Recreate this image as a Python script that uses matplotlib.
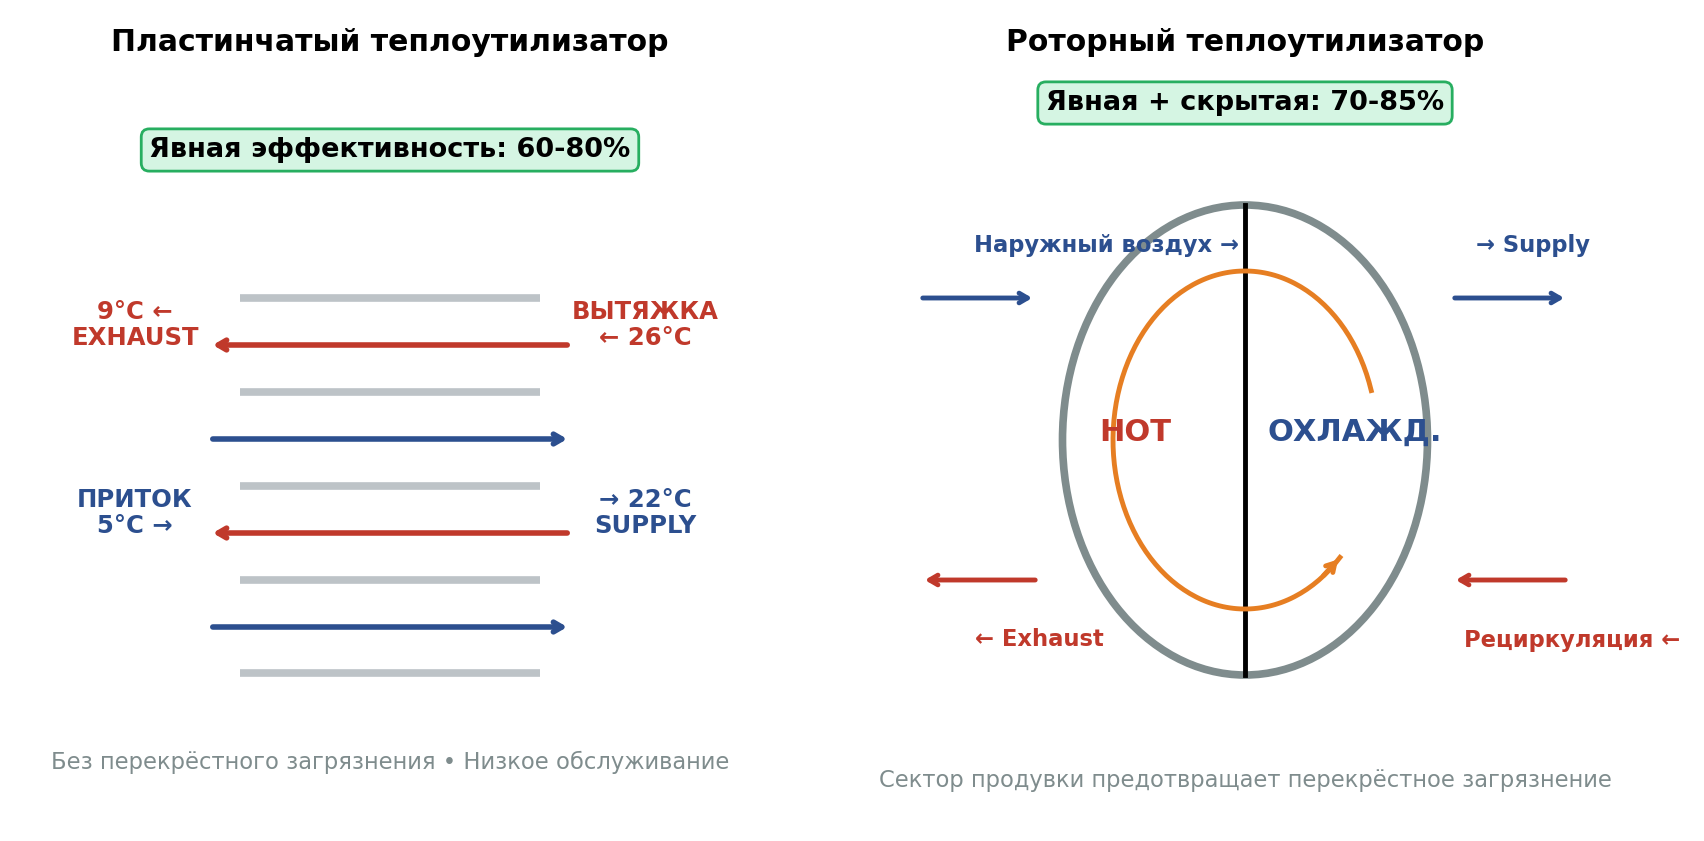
import numpy as np
import matplotlib
matplotlib.use("Agg")
import matplotlib.pyplot as plt
from matplotlib.patches import Ellipse

RED = '#c0392b'; BLUE = '#2c4f8f'; GRAY = '#bdc3c7'; DGRAY = '#7f8c8d'; ORANGE = '#e67e22'

titles = ["Пластинчатый теплоутилизатор", "Роторный теплоутилизатор"]
badges = ["Явная эффективность: 60-80%", "Явная + скрытая: 70-85%"]
footers = ["Без перекрёстного загрязнения • Низкое обслуживание",
           "Сектор продувки предотвращает перекрёстное загрязнение"]
plate_y = [298, 392, 486, 580, 673]
flow_y = [345, 439, 533, 627]
flow_dir = ['left', 'right', 'left', 'right']
plate_labels = [("9°C ←\nEXHAUST", 135, 325, RED), ("ВЫТЯЖКА\n← 26°C", 645, 325, RED),
                ("ПРИТОК\n5°C →", 135, 513, BLUE), ("→ 22°C\nSUPPLY", 645, 513, BLUE)]
rotor_labels = [("Наружный воздух →", 1107, 245, BLUE), ("→ Supply", 1533, 245, BLUE),
                ("← Exhaust", 1039, 640, RED), ("Рециркуляция ←", 1572, 640, RED)]
rotor_arrows = [(920, 1035, 298, BLUE), (1452, 1567, 298, BLUE),
                (1038, 922, 580, RED), (1568, 1453, 580, RED)]

fig = plt.figure(figsize=(17.04, 8.41), dpi=100)
ax = fig.add_axes([0, 0, 1, 1])
ax.set_xlim(0, 1704); ax.set_ylim(841, 0); ax.axis('off')

for cx, t, b, by, f, fy in zip([390, 1245], titles, badges, [150, 103], footers, [762, 780]):
    ax.text(cx, 42, t, ha='center', va='center', fontsize=21.5, fontweight='bold')
    ax.text(cx, by, b, ha='center', va='center', fontsize=19.5, fontweight='bold',
            bbox=dict(boxstyle='round,pad=0.3', fc='#d5f5e3', ec='#27ae60', lw=2))
    ax.text(cx, fy, f, ha='center', va='center', fontsize=16.3, color=DGRAY)

for y in plate_y:
    ax.plot([240, 540], [y, y], color=GRAY, lw=5.5, solid_capstyle='butt')
for y, d in zip(flow_y, flow_dir):
    c = RED if d == 'left' else BLUE
    s, e = (570, 210) if d == 'left' else (210, 570)
    ax.annotate('', xy=(e, y), xytext=(s, y),
                arrowprops=dict(arrowstyle='->,head_length=0.6,head_width=0.35', color=c, lw=4))
for s, x, y, c in plate_labels:
    ax.text(x, y, s, ha='center', va='center', fontsize=17.5, fontweight='bold', color=c, linespacing=1.1)

ax.add_patch(Ellipse((1245, 440), 365, 470, fill=False, ec=DGRAY, lw=5.5))
ax.plot([1245, 1245], [205, 675], color='black', lw=3.5)
t = np.radians(np.linspace(17, 316, 200))
ax.plot(1245 + 132 * np.cos(t), 440 - 169 * np.sin(t), color=ORANGE, lw=3.5)
ax.annotate('', xy=(1245 + 132 * np.cos(t[-1]), 440 - 169 * np.sin(t[-1])),
            xytext=(1245 + 132 * np.cos(t[-8]), 440 - 169 * np.sin(t[-8])),
            arrowprops=dict(arrowstyle='->,head_length=0.6,head_width=0.35', color=ORANGE, lw=3.5))
ax.text(1135, 432, "HOT", ha='center', va='center', fontsize=22, fontweight='bold', color=RED)
ax.text(1355, 432, "ОХЛАЖД.", ha='center', va='center', fontsize=22, fontweight='bold', color=BLUE)
for s, e, y, c in rotor_arrows:
    ax.annotate('', xy=(e, y), xytext=(s, y),
                arrowprops=dict(arrowstyle='->,head_length=0.6,head_width=0.35', color=c, lw=3.5))
for s, x, y, c in rotor_labels:
    ax.text(x, y, s, ha='center', va='center', fontsize=16.3, fontweight='bold', color=c)

fig.savefig('out.png', dpi=100, facecolor='white')
